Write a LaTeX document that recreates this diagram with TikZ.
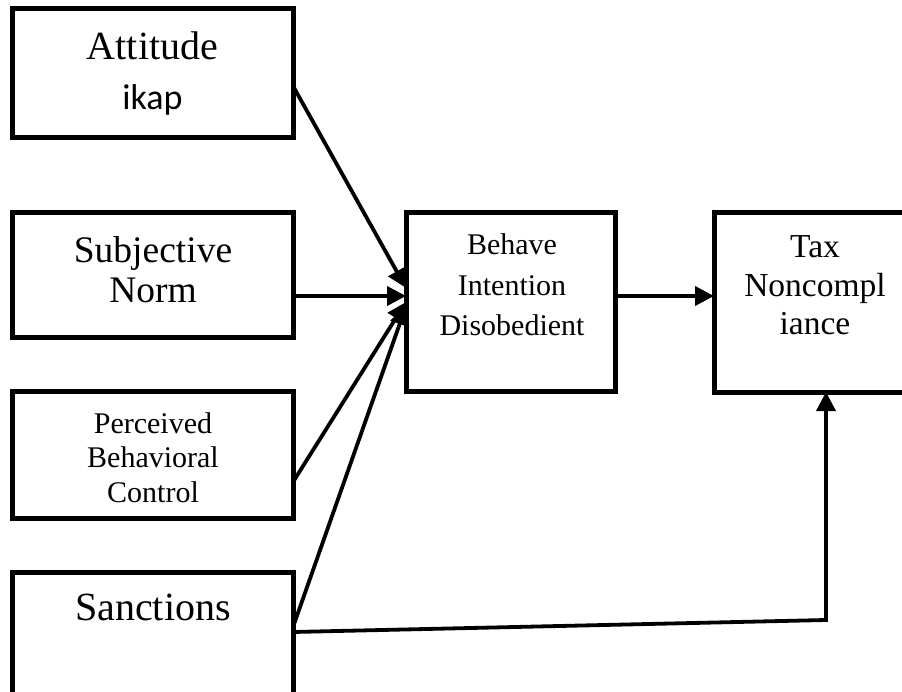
\documentclass[tikz,border=0pt]{standalone}
\usepackage{fontspec}
\setmainfont{Liberation Serif}
\newfontfamily\ikapfont{Carlito}
\usetikzlibrary{arrows.meta}
\begin{document}
\begin{tikzpicture}[x=1pt,y=-1pt,
  box/.style={draw, line width=5pt, inner sep=0pt, outer sep=0pt},
  txt/.style={align=center, anchor=base, inner sep=0pt},
  conn/.style={line width=3.8pt, -{Triangle[length=19pt,width=19pt]}}]
\clip (0,0) rectangle (902,692);
\fill[white] (0,0) rectangle (902,692);
% boxes
\node[box, minimum width=281pt, minimum height=129pt] (att) at (152.5,73) {};
\node[box, minimum width=281pt, minimum height=125pt] (subj) at (152.5,275.5) {};
\node[box, minimum width=281pt, minimum height=127pt] (perc) at (152.5,454.5) {};
\node[box, minimum width=281pt, minimum height=188pt] (sanc) at (152.5,666) {};
\node[box, minimum width=209pt, minimum height=178pt] (beh) at (510.5,302) {};
\node[box, minimum width=202pt, minimum height=179pt] (tax) at (815,302.5) {};
% texts (anchored at the baseline of the last line)
\node[txt, font=\fontsize{40}{50}\selectfont] (attT) at (152.5,110) {Attitude\\{\ikapfont\fontsize{36}{50}\selectfont ikap}};
\node[txt, font=\fontsize{37.5}{40}\selectfont] (subjT) at (153,303) {Subjective\\Norm};
\node[txt, font=\fontsize{30}{34.5}\selectfont] (percT) at (153,502) {Perceived\\Behavioral\\Control};
\node[txt, font=\fontsize{40}{50}\selectfont] (sancT) at (153,620) {Sanctions};
\node[txt, font=\fontsize{30}{40.5}\selectfont] (behT) at (512,336) {Behave\\Intention\\Disobedient};
\node[txt, font=\fontsize{33.5}{38.5}\selectfont] (taxT) at (815,335) {Tax\\Noncompl\\iance};
% connector end points
\coordinate (attOut) at (293,86);
\coordinate (percOut) at (293,482);
\coordinate (sancOut) at (293,627);
\coordinate (sancLow) at (293,632);
\coordinate (in1) at (406,288);
\coordinate (in2) at (406,296);
\coordinate (in3) at (406,302);
\coordinate (in4) at (406,306);
\coordinate (bend) at (826,620);
% connectors
\draw[conn] (attOut) -- (in1);
\draw[conn] (subj.east |- in2) -- (in2);
\draw[conn] (percOut) -- (in3);
\draw[conn] (sancOut) -- (in4);
\draw[conn] (beh.east |- in2) -- (tax.west |- in2);
\draw[conn] (sancLow) -- (bend) -- (bend |- tax.south);
\end{tikzpicture}
\end{document}
